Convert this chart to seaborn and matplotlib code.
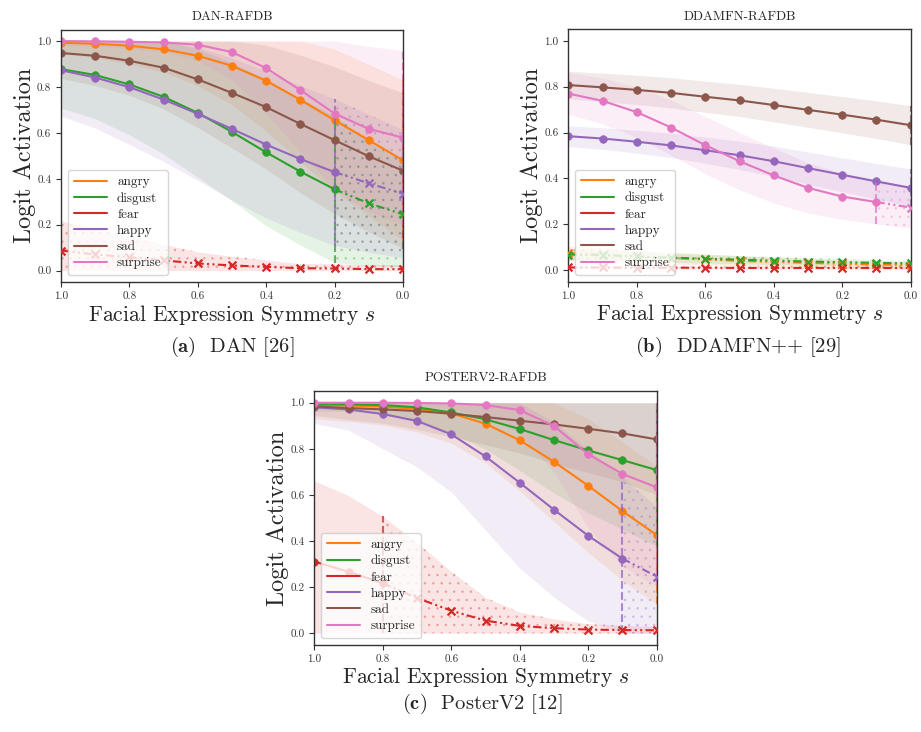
import numpy as np
import matplotlib
matplotlib.use("Agg")
import matplotlib.pyplot as plt
import seaborn as sns
from matplotlib.lines import Line2D

# ---------------- data ----------------
s_vals = [1.0, 0.9, 0.8, 0.7, 0.6, 0.5, 0.4, 0.3, 0.2, 0.1, 0.0]
emotions = ["angry", "disgust", "fear", "happy", "sad", "surprise"]
x_ticks = [1.0, 0.8, 0.6, 0.4, 0.2, 0.0]
y_ticks = [0.0, 0.2, 0.4, 0.6, 0.8, 1.0]

# DAN-RAFDB
dan_angry = [0.993, 0.988, 0.980, 0.964, 0.936, 0.892, 0.827, 0.744, 0.655, 0.568, 0.480]
dan_disgust = [0.878, 0.852, 0.811, 0.757, 0.687, 0.604, 0.515, 0.431, 0.354, 0.293, 0.245]
dan_fear = [0.087, 0.070, 0.058, 0.044, 0.031, 0.022, 0.016, 0.010, 0.009, 0.006, 0.006]
dan_happy = [0.873, 0.841, 0.799, 0.745, 0.683, 0.617, 0.549, 0.486, 0.429, 0.380, 0.335]
dan_sad = [0.948, 0.936, 0.914, 0.884, 0.833, 0.774, 0.712, 0.639, 0.568, 0.498, 0.435]
dan_surprise = [1.000, 0.999, 0.997, 0.994, 0.984, 0.952, 0.882, 0.786, 0.684, 0.617, 0.579]
dan_angry_sd = [0.05, 0.06, 0.08, 0.10, 0.13, 0.17, 0.22, 0.27, 0.31, 0.33, 0.35]
dan_disgust_sd = [0.17, 0.19, 0.22, 0.25, 0.28, 0.30, 0.32, 0.32, 0.32, 0.27, 0.23]
dan_fear_sd = [0.13, 0.11, 0.09, 0.07, 0.05, 0.04, 0.03, 0.02, 0.02, 0.02, 0.02]
dan_happy_sd = [0.20, 0.22, 0.25, 0.27, 0.29, 0.31, 0.32, 0.32, 0.32, 0.30, 0.28]
dan_sad_sd = [0.11, 0.13, 0.15, 0.18, 0.21, 0.24, 0.27, 0.30, 0.32, 0.33, 0.34]
dan_surprise_sd = [0.02, 0.02, 0.03, 0.04, 0.07, 0.12, 0.20, 0.27, 0.33, 0.36, 0.38]
dan_cutoff = [0.0, 0.2, None, 0.2, 0.0, 0.0]

# DDAMFN-RAFDB
ddamfn_angry = [0.075, 0.068, 0.060, 0.053, 0.047, 0.041, 0.036, 0.032, 0.028, 0.025, 0.022]
ddamfn_disgust = [0.068, 0.065, 0.060, 0.055, 0.050, 0.046, 0.042, 0.038, 0.035, 0.032, 0.030]
ddamfn_fear = [0.012, 0.012, 0.011, 0.011, 0.011, 0.010, 0.010, 0.010, 0.010, 0.010, 0.010]
ddamfn_happy = [0.584, 0.574, 0.560, 0.544, 0.523, 0.501, 0.475, 0.445, 0.416, 0.387, 0.359]
ddamfn_sad = [0.807, 0.797, 0.786, 0.773, 0.756, 0.740, 0.720, 0.699, 0.678, 0.656, 0.632]
ddamfn_surprise = [0.770, 0.738, 0.689, 0.622, 0.545, 0.475, 0.413, 0.359, 0.321, 0.297, 0.273]
ddamfn_angry_sd = [0.030, 0.030, 0.028, 0.026, 0.024, 0.022, 0.020, 0.018, 0.016, 0.015, 0.014]
ddamfn_disgust_sd = [0.025, 0.024, 0.022, 0.020, 0.019, 0.018, 0.017, 0.016, 0.015, 0.014, 0.013]
ddamfn_fear_sd = [0.006, 0.006, 0.006, 0.006, 0.006, 0.006, 0.006, 0.006, 0.006, 0.006, 0.006]
ddamfn_happy_sd = [0.045, 0.047, 0.050, 0.053, 0.057, 0.062, 0.066, 0.070, 0.074, 0.078, 0.082]
ddamfn_sad_sd = [0.060, 0.062, 0.064, 0.066, 0.068, 0.070, 0.073, 0.076, 0.079, 0.082, 0.085]
ddamfn_surprise_sd = [0.090, 0.100, 0.110, 0.120, 0.125, 0.125, 0.120, 0.110, 0.100, 0.095, 0.090]
ddamfn_cutoff = [None, None, None, 0.0, 0.0, 0.1]

# POSTERV2-RAFDB
poster_angry = [0.990, 0.988, 0.983, 0.973, 0.954, 0.909, 0.837, 0.744, 0.640, 0.530, 0.426]
poster_disgust = [0.994, 0.993, 0.990, 0.980, 0.958, 0.928, 0.886, 0.838, 0.793, 0.751, 0.708]
poster_fear = [0.311, 0.267, 0.217, 0.153, 0.098, 0.055, 0.032, 0.022, 0.016, 0.014, 0.013]
poster_happy = [0.980, 0.971, 0.951, 0.921, 0.863, 0.767, 0.653, 0.536, 0.423, 0.324, 0.246]
poster_sad = [0.984, 0.977, 0.971, 0.964, 0.952, 0.938, 0.922, 0.906, 0.887, 0.867, 0.841]
poster_surprise = [1.000, 1.000, 1.000, 0.999, 0.997, 0.990, 0.968, 0.899, 0.777, 0.691, 0.633]
poster_angry_sd = [0.06, 0.07, 0.08, 0.10, 0.13, 0.17, 0.22, 0.26, 0.29, 0.30, 0.30]
poster_disgust_sd = [0.03, 0.03, 0.04, 0.06, 0.09, 0.13, 0.18, 0.23, 0.27, 0.30, 0.33]
poster_fear_sd = [0.35, 0.33, 0.29, 0.24, 0.17, 0.10, 0.06, 0.04, 0.025, 0.02, 0.017]
poster_happy_sd = [0.07, 0.09, 0.15, 0.20, 0.25, 0.32, 0.37, 0.38, 0.37, 0.355, 0.30]
poster_sad_sd = [0.04, 0.05, 0.06, 0.08, 0.10, 0.12, 0.14, 0.17, 0.19, 0.21, 0.24]
poster_surprise_sd = [0.01, 0.01, 0.01, 0.01, 0.02, 0.05, 0.10, 0.20, 0.32, 0.40, 0.43]
poster_cutoff = [0.0, 0.0, 0.8, 0.1, 0.0, 0.0]

titles = ["DAN-RAFDB", "DDAMFN-RAFDB", "POSTERV2-RAFDB"]
captions = [r"$\mathbf{(a)}$  DAN [26]", r"$\mathbf{(b)}$  DDAMFN++ [29]", r"$\mathbf{(c)}$  PosterV2 [12]"]

# ---------------- style ----------------
sns.set_theme(style="ticks")
plt.rcParams["font.family"] = ["cmr10", "DejaVu Serif"]
plt.rcParams["mathtext.fontset"] = "cm"
plt.rcParams["axes.unicode_minus"] = False
plt.rcParams["axes.formatter.use_mathtext"] = True
plt.rcParams["hatch.linewidth"] = 0.6

pal = sns.color_palette("tab10")
colors = [pal[1], pal[2], pal[3], pal[4], pal[5], pal[6]]

fig = plt.figure(figsize=(9.21, 7.32), dpi=100)
W, H = 921, 732
def px_axes(l, t, r, b):
    return fig.add_axes([l / W, 1 - b / H, (r - l) / W, (b - t) / H])

ax_a = px_axes(61, 29.6, 403, 282)
ax_b = px_axes(568.3, 29.3, 910.7, 281.7)
ax_c = px_axes(314.3, 391.2, 656.7, 644.8)

panels = [
    (ax_a, [dan_angry, dan_disgust, dan_fear, dan_happy, dan_sad, dan_surprise],
     [dan_angry_sd, dan_disgust_sd, dan_fear_sd, dan_happy_sd, dan_sad_sd, dan_surprise_sd], dan_cutoff),
    (ax_b, [ddamfn_angry, ddamfn_disgust, ddamfn_fear, ddamfn_happy, ddamfn_sad, ddamfn_surprise],
     [ddamfn_angry_sd, ddamfn_disgust_sd, ddamfn_fear_sd, ddamfn_happy_sd, ddamfn_sad_sd, ddamfn_surprise_sd], ddamfn_cutoff),
    (ax_c, [poster_angry, poster_disgust, poster_fear, poster_happy, poster_sad, poster_surprise],
     [poster_angry_sd, poster_disgust_sd, poster_fear_sd, poster_happy_sd, poster_sad_sd, poster_surprise_sd], poster_cutoff),
]

dashdotdot = (0, (4, 1.6, 1, 1.6, 1, 1.6))
x = np.array(s_vals)

for (ax, means, sds, cutoffs), title in zip(panels, titles):
    bands = []
    for m, sd, c in zip(means, sds, colors):
        m = np.array(m); sd = np.array(sd)
        lo = np.clip(m - sd, 0, 1); hi = np.clip(m + sd, 0, 1)
        bands.append((lo, hi))
        ax.fill_between(x, lo, hi, color=c, alpha=0.12, linewidth=0)
    for m, (lo, hi), c, thr in zip(means, bands, colors, cutoffs):
        m = np.array(m)
        if thr is None:
            solid = np.zeros_like(x, dtype=bool)
            dash = np.ones_like(x, dtype=bool)
            xmark = dash
            vx = 1.0
        else:
            solid = x >= thr - 1e-9
            dash = x <= thr + 1e-9
            xmark = x < thr - 1e-9
            vx = thr
        # hatched unreliable region
        ax.fill_between(x[dash], lo[dash], hi[dash], facecolor="none", edgecolor=c,
                        hatch="..", linewidth=0, alpha=0.28)
        iv = np.argmin(np.abs(x - vx))
        ax.vlines(vx, lo[iv], hi[iv], colors=[c], linestyles="--", linewidth=1.5, alpha=0.75)
        if solid.any():
            sns.lineplot(x=x[solid], y=m[solid], ax=ax, color=c, linewidth=1.5,
                         marker="o", markersize=5.5, markeredgecolor=c, markeredgewidth=0.5,
                         legend=False, sort=False)
        if dash.sum() > 1:
            sns.lineplot(x=x[dash], y=m[dash], ax=ax, color=c, linewidth=1.5,
                         linestyle=dashdotdot, legend=False, sort=False)
        if xmark.any():
            sns.scatterplot(x=x[xmark], y=m[xmark], ax=ax, color=c, marker="x",
                            s=32, linewidth=1.6, legend=False, zorder=3)
    ax.set_xlim(1.0, 0.0)
    ax.set_ylim(-0.05, 1.05)
    ax.set_xticks(x_ticks)
    ax.set_yticks(y_ticks)
    ax.set_xticklabels([f"{v:.1f}" for v in x_ticks])
    ax.set_yticklabels([f"{v:.1f}" for v in y_ticks])
    ax.tick_params(labelsize=8, length=3.5, width=0.8, colors="0.2")
    for sp in ax.spines.values():
        sp.set_visible(True)
        sp.set_linewidth(1.0)
        sp.set_color("0.2")
    ax.set_title(title, fontsize=9.5, pad=7)
    ax.set_xlabel(r"Facial Expression Symmetry $s$", fontsize=15.5, labelpad=1)
    ax.set_ylabel("Logit Activation", fontsize=17.5, labelpad=1)
    handles = [Line2D([0], [0], color=c, lw=1.5) for c in colors]
    leg = ax.legend(handles, emotions, loc="lower left", fontsize=9.5, framealpha=0.8,
                    handlelength=2.5, borderpad=0.45, labelspacing=0.3, handletextpad=0.8,
                    fancybox=True)
    leg.get_frame().set_edgecolor("0.8")

fig.text(232 / W, 1 - 347 / H, captions[0], ha="center", va="center", fontsize=14.8)
fig.text(738 / W, 1 - 347 / H, captions[1], ha="center", va="center", fontsize=14.8)
fig.text(482 / W, 1 - 704 / H, captions[2], ha="center", va="center", fontsize=14.8)

fig.savefig("out.png", dpi=100)
